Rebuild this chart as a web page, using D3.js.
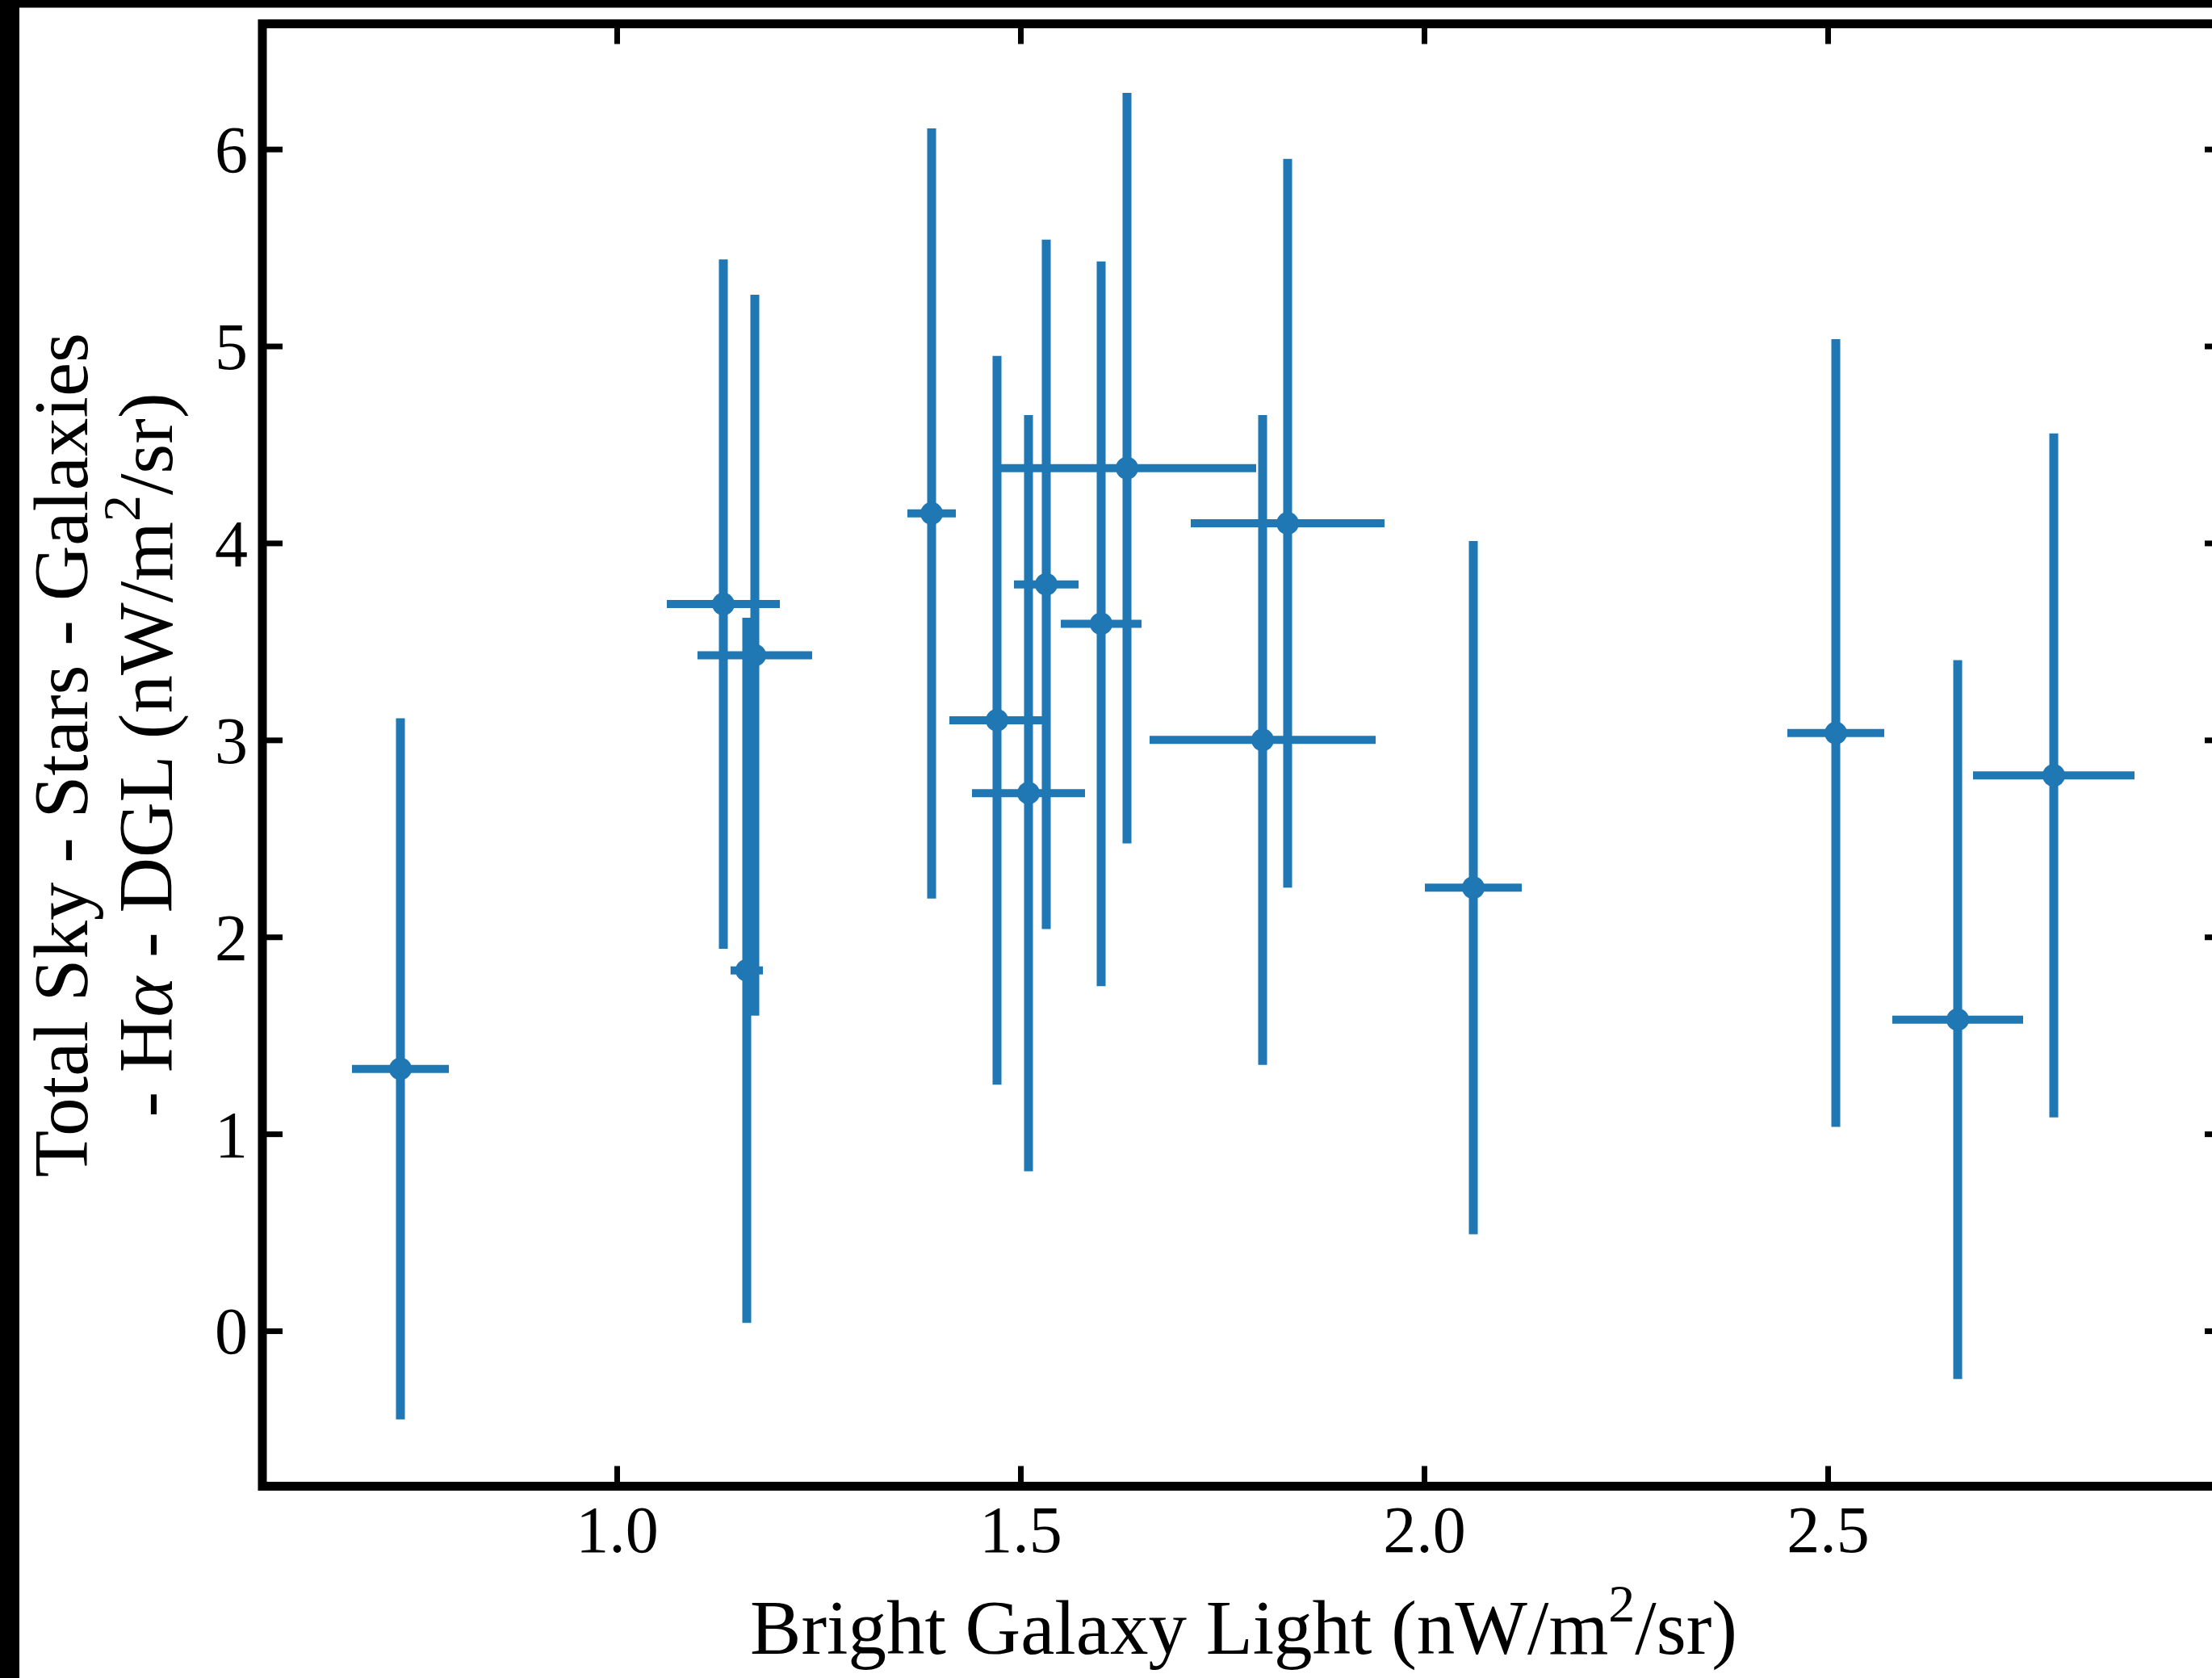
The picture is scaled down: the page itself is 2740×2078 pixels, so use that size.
<!DOCTYPE html>
<html>
<head>
<meta charset="utf-8">
<script src="https://cdn.jsdelivr.net/npm/d3@7"></script>
<style>
  html, body { margin: 0; padding: 0; background: #fff; }
  svg { display: block; }
  text { font-family: "Liberation Serif", "Times New Roman", serif; fill: #000; }
</style>
</head>
<body>
<div id="chart"></div>
<script>
// bright galaxy light (x) vs residual sky (y)
const bglX     = [0.732, 1.132, 1.171, 1.161, 1.390, 1.471, 1.510, 1.532, 1.600, 1.632, 1.800, 1.831, 2.061, 2.510, 2.661, 2.780];
const bglXErr  = [0.060, 0.070, 0.071, 0.020, 0.030, 0.059, 0.070, 0.040, 0.050, 0.160, 0.140, 0.120, 0.060, 0.060, 0.081, 0.100];
const skyY     = [1.33, 3.69, 3.43, 1.83, 4.15, 3.10, 2.73, 3.79, 3.59, 4.38, 3.00, 4.10, 2.25, 3.035, 1.58, 2.82];
const skyYErr  = [1.78, 1.75, 1.83, 1.79, 1.955, 1.85, 1.92, 1.75, 1.84, 1.905, 1.65, 1.85, 1.76, 2.00, 1.825, 1.736];

const xTickVals = [1.0, 1.5, 2.0, 2.5];
const yTickVals = [0, 1, 2, 3, 4, 5, 6];

const xLabel = "Bright Galaxy Light (nW/m";
const yLabel1 = "Total Sky - Stars - Galaxies";

const W = 2740, H = 2078;
const blue = "#1f77b4";

const svg = d3.select("#chart").append("svg")
  .attr("width", W).attr("height", H);

svg.append("rect").attr("width", W).attr("height", H).attr("fill", "#fff");
// black strips at top and left of the picture
svg.append("rect").attr("x", 0).attr("y", 0).attr("width", W).attr("height", 9.5).attr("fill", "#000");
svg.append("rect").attr("x", 0).attr("y", 0).attr("width", 24).attr("height", H).attr("fill", "#000");

// axes box (right spine falls just outside the picture)
const boxL = 325, boxR = 2756, boxT = 29.5, boxB = 1840.5;

const x = d3.scaleLinear().domain([0.561, 2.992]).range([boxL, boxR]);
const y = d3.scaleLinear().domain([-0.789, 6.636]).range([boxB, boxT]);

const data = bglX.map((d, i) => ({ x: d, xe: bglXErr[i], y: skyY[i], ye: skyYErr[i] }));

// error bars
const g = svg.append("g");
g.selectAll("line.ey").data(data).enter().append("line")
  .attr("class", "ey")
  .attr("x1", d => x(d.x)).attr("x2", d => x(d.x))
  .attr("y1", d => y(d.y - d.ye)).attr("y2", d => y(d.y + d.ye))
  .attr("stroke", blue).attr("stroke-width", 11);
g.selectAll("line.ex").data(data).enter().append("line")
  .attr("class", "ex")
  .attr("x1", d => x(d.x - d.xe)).attr("x2", d => x(d.x + d.xe))
  .attr("y1", d => y(d.y)).attr("y2", d => y(d.y))
  .attr("stroke", blue).attr("stroke-width", 10);
g.selectAll("circle").data(data).enter().append("circle")
  .attr("cx", d => x(d.x)).attr("cy", d => y(d.y))
  .attr("r", 14).attr("fill", blue);

// axes, ticks pointing inward on all four sides
const tickLen = 25, tickW = 7, fs = 82;

const axB = svg.append("g").attr("transform", `translate(0,${boxB})`)
  .call(d3.axisBottom(x).tickValues(xTickVals).tickFormat(d3.format(".1f")).tickSizeInner(-tickLen).tickSizeOuter(0));
axB.selectAll("text").attr("y", 81).attr("dy", null).style("font-size", fs + "px");

const axT = svg.append("g").attr("transform", `translate(0,${boxT})`)
  .call(d3.axisTop(x).tickValues(xTickVals).tickFormat("").tickSizeInner(-tickLen).tickSizeOuter(0));

const axL = svg.append("g").attr("transform", `translate(${boxL},0)`)
  .call(d3.axisLeft(y).tickValues(yTickVals).tickFormat(d3.format("d")).tickSizeInner(-tickLen).tickSizeOuter(0));
axL.selectAll("text").attr("x", -18).attr("dy", "0.34em").style("font-size", fs + "px");

const axR = svg.append("g").attr("transform", `translate(${boxR},0)`)
  .call(d3.axisRight(y).tickValues(yTickVals).tickFormat("").tickSizeInner(-tickLen).tickSizeOuter(0));

[axB, axT, axL, axR].forEach(a => {
  a.select(".domain").remove();
  a.selectAll(".tick line").attr("stroke", "#000").attr("stroke-width", tickW);
  a.attr("font-family", null).attr("font-size", null);
});

svg.append("rect")
  .attr("x", boxL).attr("y", boxT)
  .attr("width", boxR - boxL).attr("height", boxB - boxT)
  .attr("fill", "none").attr("stroke", "#000").attr("stroke-width", 11);

// axis labels
const lfs = 95;
const xl = svg.append("text")
  .attr("x", (boxL + boxR) / 2).attr("y", 2048)
  .attr("text-anchor", "middle").style("font-size", lfs + "px");
xl.append("tspan").text(xLabel);
xl.append("tspan").text("2").style("font-size", "66px").attr("dy", -40);
xl.append("tspan").text("/sr)").attr("dy", 40);

const ymid = (boxT + boxB) / 2;
svg.append("text")
  .attr("transform", `translate(108,${ymid}) rotate(-90)`)
  .attr("text-anchor", "middle").style("font-size", lfs + "px")
  .text(yLabel1);

const yl2 = svg.append("text")
  .attr("transform", `translate(213,${ymid}) rotate(-90)`)
  .attr("text-anchor", "middle").style("font-size", lfs + "px");
yl2.append("tspan").text("- H");
yl2.append("tspan").text("α").style("font-style", "italic");
yl2.append("tspan").text(" - DGL (nW/m");
yl2.append("tspan").text("2").style("font-size", "66px").attr("dy", -40);
yl2.append("tspan").text("/sr)").attr("dy", 40);
</script>
</body>
</html>
